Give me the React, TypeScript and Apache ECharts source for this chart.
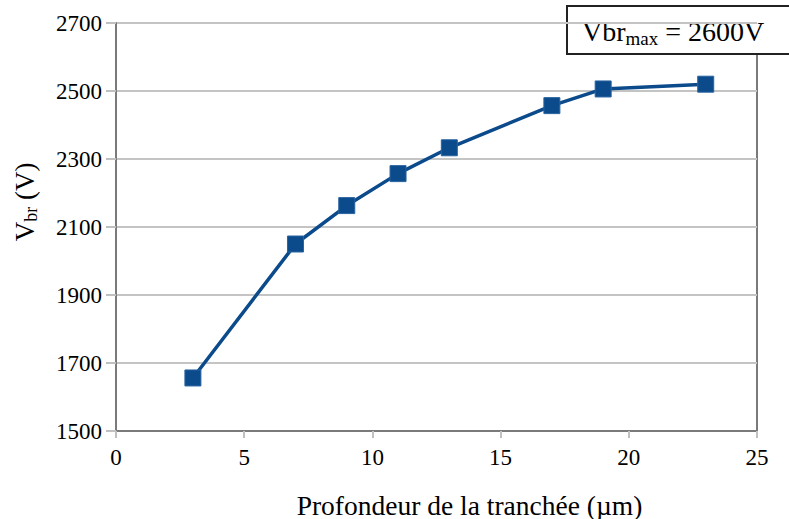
import React, { useEffect, useRef } from "react";
import * as echarts from "echarts";

const depths = [3, 7, 9, 11, 13, 17, 19, 23];
const vbr = [1656, 2050, 2163, 2257, 2333, 2457, 2506, 2520];
const xTicks = { min: 0, max: 25, interval: 5 };
const yTicks = { min: 1500, max: 2700, interval: 200 };
const xName = "Profondeur de la tranchée (µm)";
const yName = "V{sub|br} (V)";
const annotation = "Vbr{sub|max} = 2600V";

const FONT = "'Liberation Serif', 'Times New Roman', serif";

export default function App() {
  const ref = useRef<HTMLDivElement>(null);
  useEffect(() => {
    const chart = echarts.init(ref.current!, null, { renderer: "svg" });
    chart.setOption({
      animation: false,
      backgroundColor: "#ffffff",
      textStyle: { fontFamily: FONT },
      grid: {
        left: 116,
        right: 32,
        top: 23,
        bottom: 88,
        outerBoundsMode: "none",
        containLabel: false,
        show: true,
        borderColor: "#7a7a7a",
        borderWidth: 2,
        backgroundColor: "transparent",
      },
      xAxis: {
        type: "value",
        min: xTicks.min,
        max: xTicks.max,
        interval: xTicks.interval,
        name: xName,
        nameLocation: "middle",
        nameGap: 60,
        nameTextStyle: { fontFamily: FONT, fontSize: 27.5, color: "#000", padding: [0, 0, 0, 66] },
        axisLine: { show: true, lineStyle: { color: "#7a7a7a", width: 2 } },
        axisTick: { show: true, length: 7, lineStyle: { color: "#c0c0c0", width: 2 } },
        axisLabel: { fontFamily: FONT, fontSize: 23, color: "#000", margin: 15, formatter: (v: number) => String(v) },
        splitLine: { show: false },
      },
      yAxis: {
        type: "value",
        min: yTicks.min,
        max: yTicks.max,
        interval: yTicks.interval,
        axisLine: { show: true, lineStyle: { color: "#7a7a7a", width: 2 } },
        axisTick: { show: true, length: 10, lineStyle: { color: "#c0c0c0", width: 2 } },
        axisLabel: { fontFamily: FONT, fontSize: 23, color: "#000", margin: 14, formatter: (v: number) => String(v) },
        splitLine: { show: true, lineStyle: { color: "#c4c4c4", width: 2 } },
      },
      series: [
        {
          type: "line",
          data: depths.map((d, i) => [d, vbr[i]]),
          symbol: "rect",
          symbolSize: 16,
          lineStyle: { color: "#0b4a8b", width: 3.5 },
          itemStyle: { color: "#0b4a8b", borderColor: "#2a64a0", borderWidth: 1 },
        },
      ],
      graphic: [
        {
          type: "text",
          x: 25,
          y: 202,
          rotation: Math.PI / 2,
          style: {
            text: yName,
            fontFamily: FONT,
            fontSize: 27,
            fill: "#000",
            align: "center",
            verticalAlign: "middle",
            rich: {
              sub: { fontFamily: FONT, fontSize: 18, fill: "#000", padding: [12, 0, 0, 0] },
            },
          },
        },
        {
          type: "group",
          left: 566,
          top: 5,
          z: 100,
          children: [
            {
              type: "rect",
              shape: { x: 0, y: 0, width: 240, height: 48 },
              style: { fill: "#ffffff", stroke: "#222", lineWidth: 2 },
            },
            {
              type: "text",
              x: 15,
              y: 25,
              style: {
                text: annotation,
                fontFamily: FONT,
                fontSize: 28,
                fill: "#000",
                verticalAlign: "middle",
                rich: {
                  sub: { fontFamily: FONT, fontSize: 19, fill: "#000", padding: [14, 0, 0, 0] },
                },
              },
            },
          ],
        },
      ],
    });
    return () => chart.dispose();
  }, []);
  return (
    <div
      ref={ref}
      style={{ position: "absolute", left: 0, top: 0, width: 789, height: 519 }}
    />
  );
}
